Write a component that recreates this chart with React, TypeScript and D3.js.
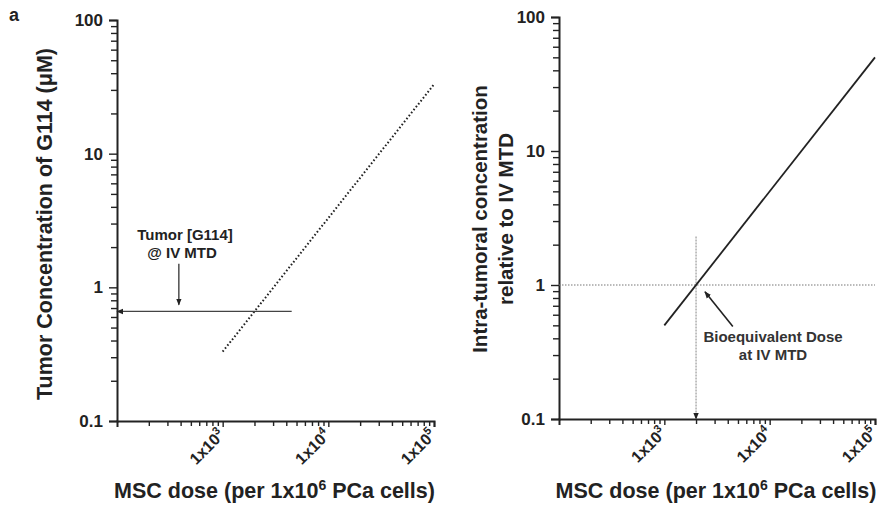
import React, { useEffect, useRef } from 'react';
import * as d3 from 'd3';

// x: MSC dose, y: concentration
const doseDomain = [100, 100000];
const concDomain = [0.1, 100];
const majorY = [0.1, 1, 10, 100];
const yLabels = ['0.1', '1', '10', '100'];
const majorX = [1000, 10000, 100000];
const xExp = ['3', '4', '5'];
const yMinor = [0.2, 0.3, 0.4, 0.5, 0.6, 0.7, 0.8, 0.9, 2, 3, 4, 5, 6, 7, 8, 9, 20, 30, 40, 50, 60, 70, 80, 90];
const xMinor = [200, 300, 400, 500, 600, 700, 800, 900, 2000, 3000, 4000, 5000, 6000, 7000, 8000, 9000,
  20000, 30000, 40000, 50000, 60000, 70000, 80000, 90000];

// left panel: predicted tumor conc (dotted) and IV MTD level
const dottedLine = [[1000, 0.33], [100000, 33]];
const mtdLine = [[4500, 0.66], [100, 0.66]];
const mtdArrow = [[385, 1.5], [385, 0.74]];

// right panel: relative to IV MTD
const relLine = [[1000, 0.5], [100000, 50]];
const refLine = [[100, 1], [100000, 1]];
const bioVLine = [[2000, 2.3], [2000, 0.1]];
const bioArrow = [[4470, 0.49], [2430, 0.89]];

const FONT = 'Liberation Sans, Arial, sans-serif';
const INK = '#222';

function App() {
  const ref = useRef();

  useEffect(() => {
    const svg = d3.select(ref.current);
    svg.selectAll('*').remove();

    const defs = svg.append('defs');
    defs.append('marker')
      .attr('id', 'ah')
      .attr('viewBox', '0 0 10 10')
      .attr('refX', 9).attr('refY', 5)
      .attr('markerWidth', 7).attr('markerHeight', 7)
      .attr('markerUnits', 'userSpaceOnUse')
      .attr('orient', 'auto')
      .append('path').attr('d', 'M0,1 L10,5 L0,9 Z').attr('fill', INK);

    svg.append('text').attr('x', 9).attr('y', 21)
      .attr('font-family', FONT).attr('font-weight', 'bold').attr('font-size', 18)
      .attr('fill', INK).text('a');

    const panel = (xr, yr) => {
      const x = d3.scaleLog().domain(doseDomain).range(xr);
      const y = d3.scaleLog().domain(concDomain).range(yr);
      const g = svg.append('g');

      // minor ticks via axes without labels
      const ym = g.append('g').attr('class', 'ymin').attr('transform', `translate(${xr[0]},0)`)
        .call(d3.axisLeft(y).tickValues(yMinor).tickSize(6).tickFormat(() => ''));
      ym.select('.domain').remove();
      ym.selectAll('line').attr('stroke', INK).attr('stroke-width', 1.4);
      const xm = g.append('g').attr('class', 'xmin').attr('transform', `translate(0,${yr[0]})`)
        .call(d3.axisBottom(x).tickValues(xMinor).tickSize(5).tickFormat(() => ''));
      xm.select('.domain').remove();
      xm.selectAll('line').attr('stroke', INK).attr('stroke-width', 1.4);

      // major y
      const ya = g.append('g').attr('transform', `translate(${xr[0]},0)`)
        .call(d3.axisLeft(y).tickValues(majorY).tickSize(8).tickPadding(6)
          .tickFormat((d, i) => yLabels[i]));
      ya.selectAll('text').attr('font-family', FONT).attr('font-weight', 'bold')
        .attr('font-size', 17).attr('fill', INK);
      ya.select('.domain').attr('stroke-width', 2).attr('stroke', INK);
      ya.selectAll('line').attr('stroke', INK).attr('stroke-width', 1.4);

      const xa = g.append('g').attr('transform', `translate(0,${yr[0]})`)
        .call(d3.axisBottom(x).tickValues(majorX).tickSize(6).tickFormat(() => ''));
      xa.select('.domain').attr('stroke-width', 2).attr('stroke', INK);
      xa.selectAll('line').attr('stroke', INK).attr('stroke-width', 1.4);

      majorX.forEach((v, i) => {
        const t = g.append('text')
          .attr('transform', `translate(${x(v) + 3},${yr[0] + 15}) rotate(-45)`)
          .attr('text-anchor', 'end')
          .attr('font-family', FONT).attr('font-weight', 'bold')
          .attr('font-size', 16).attr('fill', INK);
        t.append('tspan').text('1x10');
        t.append('tspan').attr('dy', -7).attr('font-size', 11).text(xExp[i]);
      });

      const xt = g.append('text')
        .attr('x', (xr[0] + xr[1]) / 2 - 1).attr('y', 498)
        .attr('text-anchor', 'middle')
        .attr('font-family', FONT).attr('font-weight', 'bold')
        .attr('font-size', 21.5).attr('fill', INK);
      xt.append('tspan').text('MSC dose (per 1x10');
      xt.append('tspan').attr('dy', -8).attr('font-size', 14).text('6');
      xt.append('tspan').attr('dy', 8).text(' PCa cells)');

      const line = d3.line().x(d => x(d[0])).y(d => y(d[1]));
      return { g, x, y, line };
    };

    // left panel
    const L = panel([117, 434], [421, 20]);
    L.g.append('path').attr('d', L.line(dottedLine)).attr('fill', 'none')
      .attr('stroke', INK).attr('stroke-width', 2).attr('stroke-dasharray', '1.6,2.2');
    L.g.append('path').attr('d', L.line(mtdLine)).attr('fill', 'none')
      .attr('stroke', '#444').attr('stroke-width', 1.3).attr('marker-end', 'url(#ah)');
    L.g.append('path').attr('d', L.line(mtdArrow)).attr('fill', 'none')
      .attr('stroke', INK).attr('stroke-width', 1.2).attr('marker-end', 'url(#ah)');
    const lt = L.g.append('text').attr('text-anchor', 'middle')
      .attr('font-family', FONT).attr('font-weight', 'bold')
      .attr('font-size', 15).attr('fill', INK);
    lt.append('tspan').attr('x', 185).attr('y', 240).text('Tumor [G114]');
    lt.append('tspan').attr('x', 182).attr('y', 258).text('@ IV MTD');
    svg.append('text')
      .attr('transform', 'translate(52,224) rotate(-90)')
      .attr('text-anchor', 'middle')
      .attr('font-family', FONT).attr('font-weight', 'bold')
      .attr('font-size', 21.5).attr('fill', INK)
      .text('Tumor Concentration of G114 (μM)');

    // right panel
    const R = panel([559, 875], [419, 17]);
    R.g.append('path').attr('d', R.line(refLine)).attr('fill', 'none')
      .attr('stroke', '#777').attr('stroke-width', 1.2).attr('stroke-dasharray', '1.5,1.5');
    R.g.append('path').attr('d', R.line(bioVLine)).attr('fill', 'none')
      .attr('stroke', '#999').attr('stroke-width', 1.2).attr('stroke-dasharray', '2,1')
      .attr('marker-end', 'url(#ah)');
    R.g.append('path').attr('d', R.line(relLine)).attr('fill', 'none')
      .attr('stroke', INK).attr('stroke-width', 1.8);
    R.g.append('path').attr('d', R.line(bioArrow)).attr('fill', 'none')
      .attr('stroke', INK).attr('stroke-width', 1.6).attr('marker-end', 'url(#ah)');
    const rt = R.g.append('text').attr('text-anchor', 'middle')
      .attr('font-family', FONT).attr('font-weight', 'bold')
      .attr('font-size', 15).attr('fill', '#333');
    rt.append('tspan').attr('x', 773).attr('y', 342).text('Bioequivalent Dose');
    rt.append('tspan').attr('x', 773).attr('y', 360).text('at IV MTD');
    const ry = svg.append('text')
      .attr('transform', 'translate(500,219) rotate(-90)')
      .attr('text-anchor', 'middle')
      .attr('font-family', FONT).attr('font-weight', 'bold')
      .attr('font-size', 20.5).attr('fill', INK);
    ry.append('tspan').attr('x', 0).attr('y', -13).text('Intra-tumoral concentration');
    ry.append('tspan').attr('x', 0).attr('y', 13).text('relative to IV MTD');
  }, []);

  return (
    <svg ref={ref} width={888} height={510}
      style={{ position: 'absolute', left: 0, top: 0, background: '#fff' }} />
  );
}

export default App;
